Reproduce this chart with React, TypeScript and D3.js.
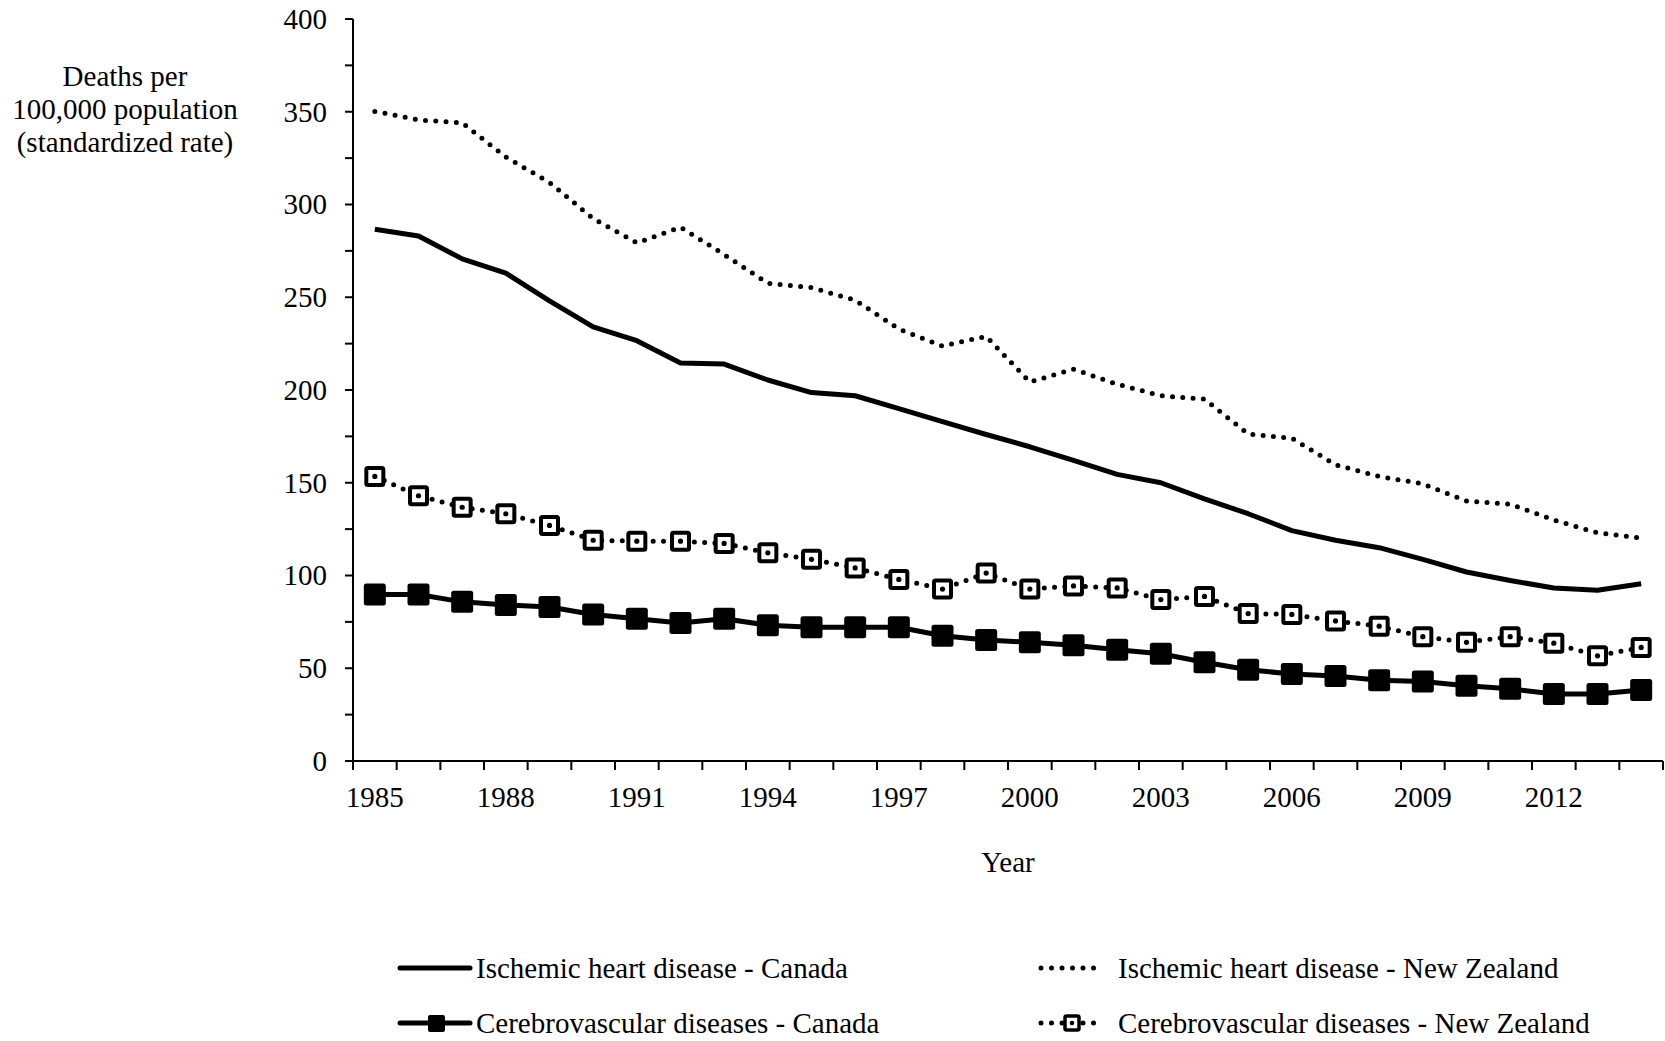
import React from "react";
import * as d3 from "d3";

const years: number[] = d3.range(1985, 2015);
const xTickLabels: number[] = [1985, 1988, 1991, 1994, 1997, 2000, 2003, 2006, 2009, 2012];
const yTicks: number[] = d3.range(0, 401, 25);
const yTickLabels: number[] = [0, 50, 100, 150, 200, 250, 300, 350, 400];

const ihdCanada: number[] = [286.7, 283, 270.7, 263, 248, 234, 226.6, 214.6, 214, 205.4, 198.6, 196.9, 190, 183, 176, 169.4, 162, 154.5, 150, 141.3, 133.3, 124.2, 119, 115, 108.7, 101.9, 97.3, 93.3, 92.1, 95.6];
const ihdNZ: number[] = [350.2, 345.6, 344, 325.6, 311.9, 292.4, 279.3, 287.8, 273, 257.5, 255.2, 248.4, 232.9, 223.7, 228.9, 204.3, 211.2, 203.1, 196.9, 195.1, 176.3, 174, 159.7, 153.4, 149.4, 140.2, 138.5, 129.9, 123, 120.2];
const cvdCanada: number[] = [89.8, 89.8, 85.8, 84.1, 83, 79, 76.7, 74.4, 76.7, 73.2, 72.1, 72.1, 72.1, 67.5, 65.2, 64, 62.4, 60, 57.8, 53.2, 49.2, 46.9, 45.8, 43.5, 42.9, 40.6, 38.9, 36.1, 36.1, 38.3];
const cvdNZ: number[] = [153.4, 143, 136.8, 133.3, 127, 119, 118.5, 118.5, 117.3, 112.2, 108.7, 104.1, 97.9, 92.7, 101.3, 92.7, 94.4, 93.3, 87, 88.7, 79.5, 79, 75.5, 72.7, 67, 64, 67, 63.5, 56.7, 61.2];

const legendLabels: string[] = [
  "Ischemic heart disease - Canada",
  "Ischemic heart disease - New Zealand",
  "Cerebrovascular diseases - Canada",
  "Cerebrovascular diseases - New Zealand",
];

const FONT = "'Liberation Serif', 'Times New Roman', serif";
const FS = 29;

export default function App() {
  const W = 1665;
  const H = 1041;
  const left = 353;
  const right = 1663;
  const top = 19;
  const bottom = 761;

  const xBand = d3.scaleBand<number>().domain(years).range([left, right]).padding(0);
  const x = (yr: number) => (xBand(yr) as number) + xBand.bandwidth() / 2;
  const y = d3.scaleLinear().domain([0, 400]).range([bottom, top]);

  const line = d3
    .line<number>()
    .x((_, i) => x(years[i]))
    .y((d) => y(d));

  const boundaries = years.map((yr) => xBand(yr) as number).concat([right]);

  return (
    <svg
      width={W}
      height={H}
      style={{ position: "absolute", left: 0, top: 0, background: "#fff" }}
      fontFamily={FONT}
      fontSize={FS}
    >
      <rect x={0} y={0} width={W} height={H} fill="#fff" />
      {/* Y axis title */}
      <text x={125} y={86} textAnchor="middle">Deaths per</text>
      <text x={125} y={119} textAnchor="middle">100,000 population</text>
      <text x={125} y={152} textAnchor="middle">(standardized rate)</text>

      {/* Y axis */}
      <line x1={left} x2={left} y1={top} y2={bottom} stroke="#000" strokeWidth={2} />
      {yTicks.map((t) => (
        <line key={"yt" + t} x1={left - 8} x2={left} y1={y(t)} y2={y(t)} stroke="#000" strokeWidth={2} />
      ))}
      {yTickLabels.map((t) => (
        <text key={"yl" + t} x={left - 26} y={y(t)} dy="0.34em" textAnchor="end">
          {t}
        </text>
      ))}

      {/* X axis */}
      <line x1={left} x2={right} y1={bottom} y2={bottom} stroke="#000" strokeWidth={2} />
      {boundaries.map((b, i) => (
        <line key={"xt" + i} x1={b} x2={b} y1={bottom} y2={bottom + 9} stroke="#000" strokeWidth={2} />
      ))}
      {xTickLabels.map((yr) => (
        <text key={"xl" + yr} x={x(yr)} y={807} textAnchor="middle">
          {yr}
        </text>
      ))}
      <text x={(left + right) / 2} y={872} textAnchor="middle">Year</text>

      {/* Lines */}
      <path d={line(ihdCanada) || ""} fill="none" stroke="#000" strokeWidth={5} strokeLinejoin="round" />
      <path
        d={line(ihdNZ) || ""}
        fill="none"
        stroke="#000"
        strokeWidth={5}
        strokeDasharray="0 10.3"
        strokeLinecap="round"
      />
      <path d={line(cvdNZ) || ""} fill="none" stroke="#000" strokeWidth={5} strokeDasharray="0 10.3" strokeLinecap="round" />
      <path d={line(cvdCanada) || ""} fill="none" stroke="#000" strokeWidth={5} strokeLinejoin="round" />

      {/* Markers */}
      {cvdNZ.map((v, i) => (
        <g key={"mn" + i}>
          <rect x={x(years[i]) - 8.5} y={y(v) - 8.5} width={17} height={17} rx={1.5} fill="#fff" stroke="#000" strokeWidth={4} />
          <circle cx={x(years[i])} cy={y(v)} r={2.6} fill="#000" />
        </g>
      ))}
      {cvdCanada.map((v, i) => (
        <rect key={"mc" + i} x={x(years[i]) - 11} y={y(v) - 11} width={22} height={22} rx={2.5} fill="#000" />
      ))}

      {/* Legend */}
      <g>
        <line x1={400} x2={470} y1={968} y2={968} stroke="#000" strokeWidth={5} strokeLinecap="round" />
        <text x={476} y={968} dy="0.34em">{legendLabels[0]}</text>

        <line x1={1041} x2={1095} y1={968} y2={968} stroke="#000" strokeWidth={5} strokeDasharray="0 10.5" strokeLinecap="round" />
        <text x={1118} y={968} dy="0.34em">{legendLabels[1]}</text>

        <line x1={400} x2={470} y1={1023} y2={1023} stroke="#000" strokeWidth={5} strokeLinecap="round" />
        <rect x={428} y={1015} width={17} height={17} rx={2} fill="#000" />
        <text x={476} y={1023} dy="0.34em">{legendLabels[2]}</text>

        <line x1={1041} x2={1095} y1={1023} y2={1023} stroke="#000" strokeWidth={5} strokeDasharray="0 10.5" strokeLinecap="round" />
        <rect x={1065} y={1016} width={14} height={14} rx={1.5} fill="#fff" stroke="#000" strokeWidth={3.5} />
        <circle cx={1072} cy={1023} r={2.3} fill="#000" />
        <text x={1118} y={1023} dy="0.34em">{legendLabels[3]}</text>
      </g>
    </svg>
  );
}
